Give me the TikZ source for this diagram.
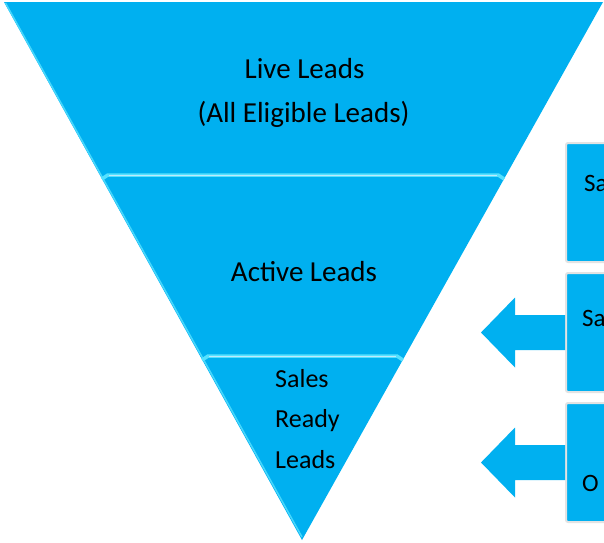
\documentclass[tikz,border=0pt]{standalone}
\usepackage{fontspec}
\setmainfont{Carlito}
\usetikzlibrary{calc}

\definecolor{funnelblue}{RGB}{0,176,240}
\definecolor{glowblue}{RGB}{85,225,255}
\definecolor{edgeblue}{RGB}{70,215,252}

\begin{document}
\begin{tikzpicture}[
      x = 1pt, y = -1pt,
      every node/.style = {inner sep = 0pt, text = black},
      big/.style = {font = \fontsize{29}{35}\selectfont},
      small/.style = {font = \fontsize{26}{31}\selectfont},
      side/.style = {font = \fontsize{25}{30}\selectfont},
      sidebox/.style = {
        rectangle, fill = funnelblue, draw = gray!22, line width = 2pt,
        rounded corners = 2pt, minimum width = 80pt, minimum height = 119pt,
        anchor = north west},
      sep/.style = {glowblue, line width = 3.5pt},
      sepcore/.style = {cyan!25!white, line width = 1pt}
    ]
    \useasboundingbox (0,0) rectangle (604,542);
    % funnel
    \coordinate (tl) at (4,2);
    \coordinate (tr) at (603,2);
    \coordinate (tip) at (302,540);
    \fill[funnelblue] (tl) -- (tr) -- (tip) -- cycle;
    \draw[edgeblue, line width = 1.5pt] ($(tl)+(1.5,1)$) -- ($(tip)+(0,-3)$);
    % separators
    \coordinate (s1l) at ($(tl)!0.3216!(tip)$);
    \coordinate (s1r) at ($(tr)!0.3216!(tip)$);
    \coordinate (s2l) at ($(tl)!0.658!(tip)$);
    \coordinate (s2r) at ($(tr)!0.658!(tip)$);
    \draw[sep] ($(s1l)+(2,4)$) -- ($(s1l)+(8,0)$) -- ($(s1r)+(-8,0)$) -- ($(s1r)+(-2,4)$);
    \draw[sepcore] ($(s1l)+(9,0)$) -- ($(s1r)+(-9,0)$);
    \draw[sep] ($(s2l)+(2,4)$) -- ($(s2l)+(8,0)$) -- ($(s2r)+(-8,0)$) -- ($(s2r)+(-2,4)$);
    \draw[sepcore] ($(s2l)+(9,0)$) -- ($(s2r)+(-9,0)$);
    % funnel texts
    \node[big, anchor = base] (live) at (304.5,78) {Live Leads};
    \node[big, anchor = base] (elig) at (303.5,122) {(All Eligible Leads)};
    \node[big, anchor = base] (active) at (304,281) {Active Leads};
    \node[small, anchor = base west] (sales) at (275,387) {Sales};
    \node[small, anchor = base west] (ready) at (275,427) {Ready};
    \node[small, anchor = base west] (leads) at (275,468) {Leads};
    % boxes on the right
    \node[sidebox] (box1) at (565,142) {};
    \node[sidebox] (box2) at (565,272) {};
    \node[sidebox] (box3) at (565,402) {};
    \node[side, anchor = base west] (lab1) at (584,191) {Sa};
    \node[side, anchor = base west] (lab2) at (582,326) {Sa};
    \node[side, anchor = base west] (lab3) at (582,491) {O};
    % arrows
    \fill[funnelblue] (box2.west) -- ++(0,-17.5) -- ++(-50,0) -- ++(0,-17.5)
      -- ++(-34,35) -- ++(34,35) -- ++(0,-17.5) -- ++(50,0) -- cycle;
    \fill[funnelblue] (box3.west) -- ++(0,-17.5) -- ++(-50,0) -- ++(0,-17.5)
      -- ++(-34,35) -- ++(34,35) -- ++(0,-17.5) -- ++(50,0) -- cycle;
  \end{tikzpicture}
\end{document}
